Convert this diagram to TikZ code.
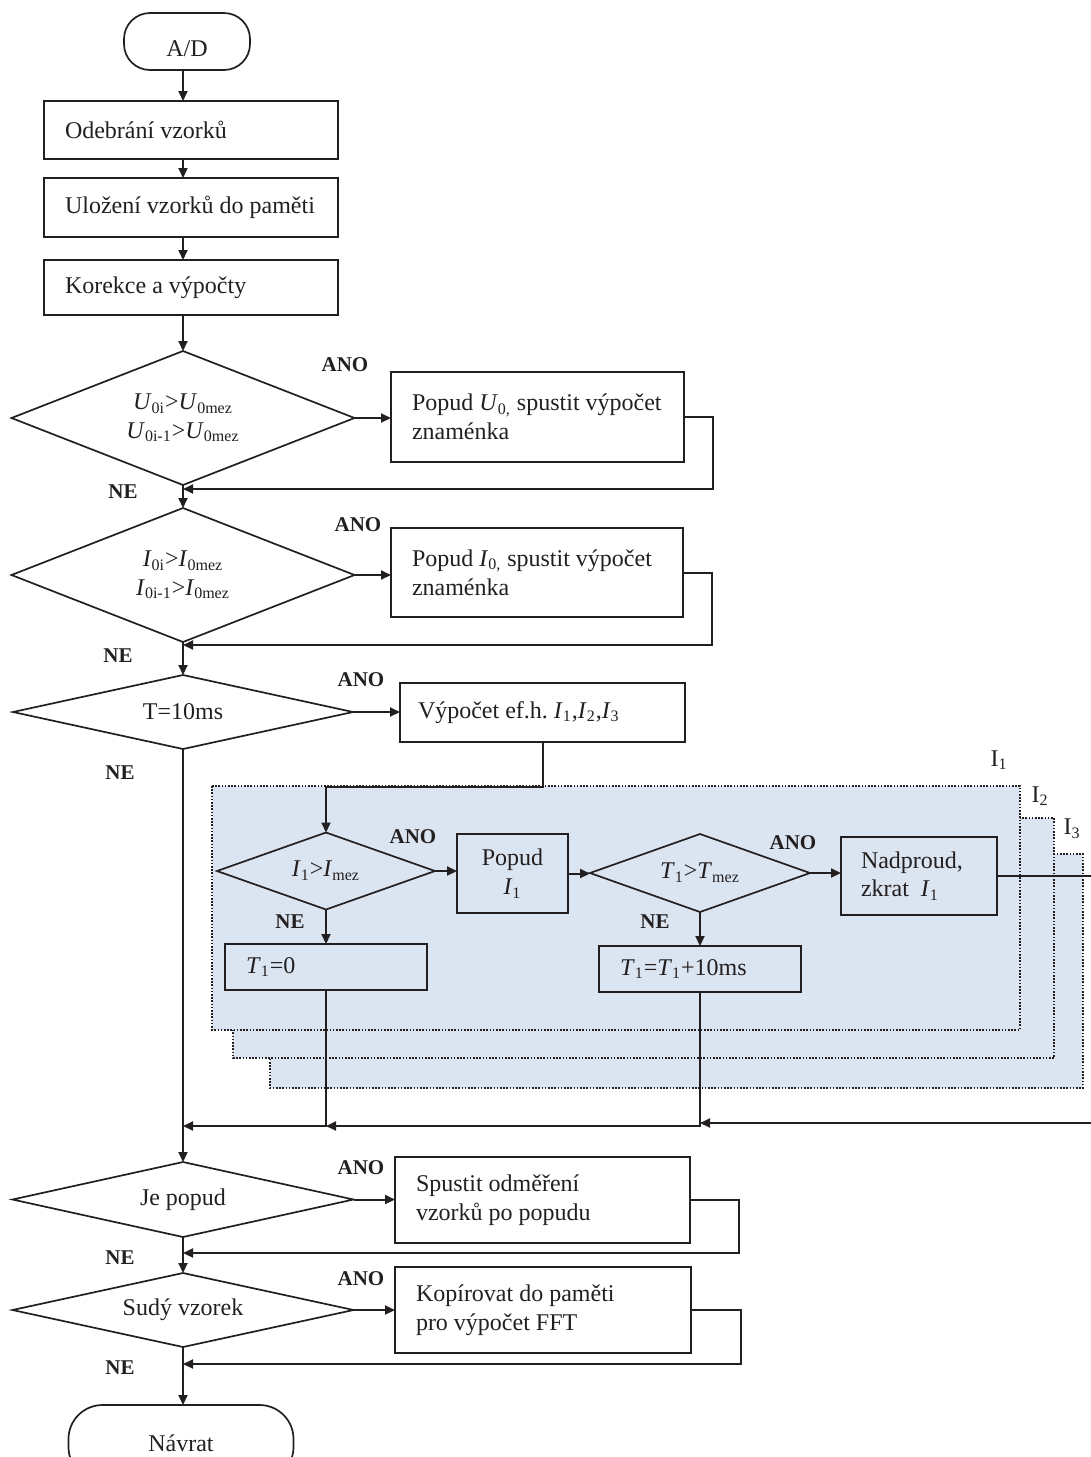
\documentclass[tikz,border=0pt]{standalone}
\usepackage{fontspec}
\setmainfont{Liberation Serif}
\usetikzlibrary{shapes.geometric,arrows.meta,calc}
\definecolor{ink}{RGB}{35,31,32}
\definecolor{layerblue}{RGB}{219,229,241}
\frenchspacing
\tikzset{
  base/.style={draw=ink, line width=0.85pt, inner sep=0pt, outer sep=0pt, text=ink,
    font=\fontsize{12}{14.4}\selectfont},
  lbox/.style={base, rectangle, align=flush left, inner xsep=10.5pt, inner ysep=0pt},
  cbox/.style={base, rectangle, align=center},
  dia/.style={base, diamond, align=center},
  term/.style={base, rectangle, align=center},
  arr/.style={draw=ink, line width=1pt, -{Triangle[length=5pt,width=4.5pt]}},
  conn/.style={draw=ink, line width=1pt},
  ano/.style={text=ink, font=\fontsize{10.5}{12}\selectfont\bfseries, inner sep=0pt},
  lab/.style={text=ink, font=\fontsize{12}{14.4}\selectfont, inner sep=0pt},
  layer/.style={draw=ink, fill=layerblue, line width=0.8pt, dash pattern=on 0.8pt off 0.8pt}
}
\begin{document}
\begin{tikzpicture}[x=0.5pt,y=-0.5pt]
\useasboundingbox (0,0) rectangle (1091,1457);
\clip (0,0) rectangle (1091,1457);

% stacked regions
\draw[layer] (270,854) rectangle (1083,1088);
\draw[layer] (233,818) rectangle (1054,1058);
\draw[layer] (212,786) rectangle (1020,1030);
\node[lab] (l1) at (999,760) {I\textsubscript{1}};
\node[lab] (l2) at (1040,796) {I\textsubscript{2}};
\node[lab] (l3) at (1072,829) {I\textsubscript{3}};

% main column
\node[term, rounded corners=13pt, minimum width=63pt, minimum height=28.5pt,
  text height=15pt, text depth=0pt] (ad) at (187,41.5) {A/D};
\node[lbox, text width=126pt, minimum height=29pt] (b1) at (191,130) {\mbox{Odebrání vzorků}};
\node[lbox, text width=126pt, minimum height=29.5pt] (b2) at (191,207.5) {\mbox{Uložení vzorků do paměti}};
\node[lbox, text width=126pt, minimum height=27.5pt] (b3) at (191,287.5) {\mbox{Korekce a výpočty}};

\node[dia, minimum width=171.5pt, minimum height=67pt, aspect=2.56] (d1) at (183,418)
  {\textit{U}\textsubscript{0i}>\textit{U}\textsubscript{0mez}\\\textit{U}\textsubscript{0i-1}>\textit{U}\textsubscript{0mez}};
\node[lbox, text width=125.5pt, minimum height=45pt] (b4) at (537.5,417)
  {\mbox{Popud \textit{U}\textsubscript{0,} spustit výpočet}\\znaménka};

\node[dia, minimum width=171.5pt, minimum height=67pt, aspect=2.56] (d2) at (183,575)
  {\textit{I}\textsubscript{0i}>\textit{I}\textsubscript{0mez}\\\textit{I}\textsubscript{0i-1}>\textit{I}\textsubscript{0mez}};
\node[lbox, text width=125pt, minimum height=44.5pt] (b5) at (537,572.5)
  {\mbox{Popud \textit{I}\textsubscript{0,} spustit výpočet}\\znaménka};

\node[dia, minimum width=170pt, minimum height=37pt, aspect=4.6] (d3) at (183,712) {T=10ms};
\node[lbox, text width=124.5pt, minimum height=29.5pt, inner xsep=9pt] (b6) at (542.5,712.5)
  {\mbox{Výpočet ef.h. \textit{I}\textsubscript{1},\textit{I}\textsubscript{2},\textit{I}\textsubscript{3}}};

% inner block
\node[dia, minimum width=109pt, minimum height=38.5pt, aspect=2.83] (d4) at (326,871)
  {\textit{I}\textsubscript{1}>\textit{I}\textsubscript{mez}};
\node[cbox, minimum width=55.5pt, minimum height=39.5pt] (pop) at (512.5,873.5)
  {Popud\\\textit{I}\textsubscript{1}};
\node[dia, minimum width=110pt, minimum height=39pt, aspect=2.82] (d5) at (700,873)
  {\textit{T}\textsubscript{1}>\textit{T}\textsubscript{mez}};
\node[lbox, text width=58pt, minimum height=39pt, inner xsep=10pt] (nad) at (919,876)
  {\mbox{Nadproud,}\\\mbox{zkrat~~\textit{I}\textsubscript{1}}};
\node[lbox, text width=80pt, minimum height=23pt] (tz) at (326,967)
  {\textit{T}\textsubscript{1}=0};
\node[lbox, text width=80pt, minimum height=23pt] (tp) at (700,969)
  {\mbox{\textit{T}\textsubscript{1}=\textit{T}\textsubscript{1}+10ms}};

% lower part
\node[dia, minimum width=170.5pt, minimum height=37.5pt, aspect=4.55] (d6) at (183,1199.5) {Je popud};
\node[lbox, text width=126.5pt, minimum height=43pt] (b7) at (542.5,1200)
  {\mbox{Spustit odměření}\\\mbox{vzorků po popudu}};
\node[dia, minimum width=170.5pt, minimum height=37pt, aspect=4.6] (d7) at (183,1310) {Sudý vzorek};
\node[lbox, text width=127pt, minimum height=43pt] (b8) at (543,1310)
  {\mbox{Kopírovat do paměti}\\\mbox{pro výpočet FFT}};
\node[term, rounded corners=17pt, minimum width=112.5pt, minimum height=38pt] (nav) at (181,1443) {Návrat};

% labels
\node[ano] (a1) at (345,365) {ANO};
\node[ano] (a2) at (358,525) {ANO};
\node[ano] (a3) at (361,680) {ANO};
\node[ano] (a4) at (413,837) {ANO};
\node[ano] (a5) at (793,843) {ANO};
\node[ano] (a6) at (361,1168) {ANO};
\node[ano] (a7) at (361,1279) {ANO};
\node[ano] (n1) at (123,492) {NE};
\node[ano] (n2) at (118,656) {NE};
\node[ano] (n3) at (120,773) {NE};
\node[ano] (n4) at (290,922) {NE};
\node[ano] (n5) at (655,922) {NE};
\node[ano] (n6) at (120,1258) {NE};
\node[ano] (n7) at (120,1368) {NE};

% connectors
\coordinate (jy) at (0,1126);
\coordinate (re1) at (1091,876);
\coordinate (re2) at (1091,1123);
\draw[arr] (ad.south -| d1.north) -- (b1.north -| d1.north);
\draw[arr] (b1.south -| d1.north) -- (b2.north -| d1.north);
\draw[arr] (b2.south -| d1.north) -- (b3.north -| d1.north);
\draw[arr] (b3.south -| d1.north) -- (d1.north);
\draw[arr] (d1.east) -- (d1.east -| b4.west);
\draw[arr] (b4.east) -- ++(29,0) |- ($(d1.south)+(0,4)$);
\draw[arr] (d1.south) -- (d2.north);
\draw[arr] (d2.east) -- (d2.east -| b5.west);
\draw[arr] (b5.east) -- ++(29,0) |- ($(d2.south)+(0,3)$);
\draw[arr] (d2.south) -- (d3.north);
\draw[arr] (d3.east) -- (d3.east -| b6.west);
\draw[arr] (b6.south) -- ++(0,45) -| (d4.north);
\draw[arr] (d4.east) -- (d4.east -| pop.west);
\draw[arr] (pop.east) -- (pop.east -| d5.west);
\draw[arr] (d5.east) -- (d5.east -| nad.west);
\draw[arr] (d4.south) -- (tz.north);
\draw[arr] (d5.south) -- (tp.north);
\draw[conn] (nad.east) -- (nad.east -| re1);
\draw[arr] (re2) -- (re2 -| tp.south);
\draw[arr] (tp.south) |- (tz.south |- jy);
\draw[arr] (tz.south) |- (d3.south |- jy);
\draw[arr] (d3.south) -- (d6.north);
\draw[arr] (d6.east) -- (d6.east -| b7.west);
\draw[arr] (b7.east) -- ++(49,0) |- ($(d6.south)+(0,16)$);
\draw[arr] (d6.south) -- (d7.north);
\draw[arr] (d7.east) -- (d7.east -| b8.west);
\draw[arr] (b8.east) -- ++(50,0) |- ($(d7.south)+(0,17)$);
\draw[arr] (d7.south) -- (d7.south |- nav.north);
\end{tikzpicture}
\end{document}
